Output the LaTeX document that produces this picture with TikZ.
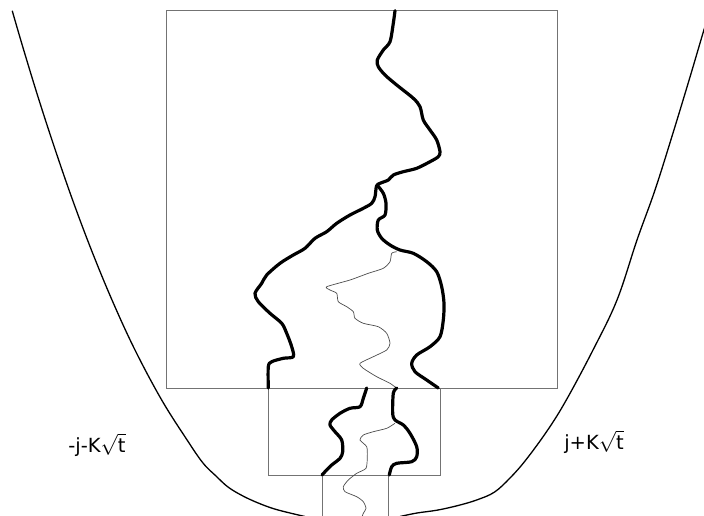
\documentclass[tikz,border=0pt]{standalone}
\usepackage{fontspec}
\setmainfont{DejaVu Sans}
\newcommand\mysqrtt{$\sqrt{\mbox{t}}$}
\begin{document}
\begin{tikzpicture}[x=1pt,y=-1pt,
  boxline/.style={draw=black!55, line width=0.9pt},
  thickpath/.style={draw=black, line width=3.2pt, line join=round, line cap=round},
  thinpath/.style={draw=black!70, line width=0.7pt, line join=round},
  bound/.style={draw=black, line width=1.3pt},
  lbl/.style={font=\fontsize{19.5}{20}\selectfont, inner sep=0pt}]
\useasboundingbox (0,0) rectangle (704,515);
% boxes
\draw[boxline] (166,10.7) rectangle (557.3,388);
\draw[boxline] (268.7,388) rectangle (440.3,475);
\draw[boxline] (322,475) -- (322,516);
\draw[boxline] (388,475) -- (388,516);
% boundary curves
\draw[bound] plot[smooth, tension=0.6] coordinates {(12.2,10.7) (23.7,50) (39,100) (55.3,150) (72.6,200) (91.4,250) (112,300) (135,350) (161.7,400) (187.1,440) (203,463) (216,476) (228,487) (242,495.5) (257,502.5) (273,508.5) (290,513) (305,516.5)};
\draw[bound] plot[smooth, tension=0.6] coordinates {(706,24) (703,33) (690,77) (673,133) (655,190) (637,240) (617,300) (593,350) (566.3,400) (547.7,430) (525.8,460) (510,478) (494.6,492) (478,499.5) (460,505) (438,510) (417,513) (400,516.5)};
% thick curves, big box
\draw[thickpath] plot[smooth, tension=0.5] coordinates {(395,10.7) (393.3,23.3) (390,41.7) (383.3,50) (377.3,60) (378.3,66.7) (385,75) (396.7,85) (413.3,98.3) (420,106.7) (423.3,120) (430,130) (436.7,140) (440,151.7) (438.3,156.7) (430,161.7) (416.7,168.3) (403.3,171.7) (393.3,175) (388.3,180) (380,183.3) (376.5,186) (375,196.7) (371.7,203.3) (363.3,208.3) (350,215) (336.7,223.3) (326.7,231.7) (315,238.3) (305,248.3) (293.3,255) (280,263.3) (266.7,275) (261.7,283.3) (255,293.3) (258.3,301.7) (270,313.3) (281.7,323.3) (286.7,333.3) (291.7,346.7) (293.3,356.7) (283.3,358.3) (271.7,361.7) (268.3,366.7) (268.3,388)};
\draw[thickpath] plot[smooth, tension=0.5] coordinates {(377.5,185.5) (383.3,193.3) (386,203.3) (385,215) (378.3,220) (377.3,230) (381.7,238.3) (390,245) (400,250) (413.3,253.3) (426.7,261.7) (436.7,271.7) (441.7,286.7) (444,303.3) (443.3,320) (440,336.7) (430,346.7) (416.7,355) (411.7,363.3) (415,371.7) (426.7,380) (438.3,388)};
% thin curve, big box
\draw[thinpath] plot[smooth, tension=0.4] coordinates {(396.7,251.7) (391.7,253.3) (390,261.7) (383.3,268.3) (368.3,273.3) (350,280) (326.7,286.7) (330,290) (336.7,293.3) (338.3,301.7) (346.7,306.7) (353.3,311.7) (355,318.3) (363.3,323.3) (378.3,326.7) (386.7,333.3) (390,343.3) (386.7,350) (373.3,356.7) (360,363.3) (363.3,368.3) (376.7,376.7) (390,383.3) (396.7,388.3)};
% thick curves, middle box
\draw[thickpath] plot[smooth, tension=0.5] coordinates {(366.7,388) (363.3,398.3) (360,406.7) (350,408.3) (340,413.3) (331.7,420) (330,425) (335,431.7) (341.7,440) (342.7,451.7) (340,458.3) (331.7,465) (325,471.7) (322,475)};
\draw[thickpath] plot[smooth, tension=0.5] coordinates {(396.7,388) (393.3,393.3) (392.7,413.3) (395,420) (403.3,425) (410,433.3) (416.7,446.7) (416.7,456.7) (411.7,461.7) (396.7,463.3) (391.7,466.7) (389.3,475)};
% thin curve, middle and small box
\draw[thinpath] plot[smooth, tension=0.4] coordinates {(395,423.3) (386.7,428.3) (373.3,431.7) (363.3,435) (360,440) (366.7,446.7) (367.3,456.7) (366,468.3) (356.7,473.3) (348.3,480) (343.3,486.7) (345,491.7) (356.7,496.7) (363.3,501.7) (366,508.3) (363.3,513.3) (362,517)};
% labels
\node[lbl] (lleft) at (97,445) {-j-K\mysqrtt};
\node[lbl] (lright) at (594,442) {j+K\mysqrtt};
\end{tikzpicture}
\end{document}
